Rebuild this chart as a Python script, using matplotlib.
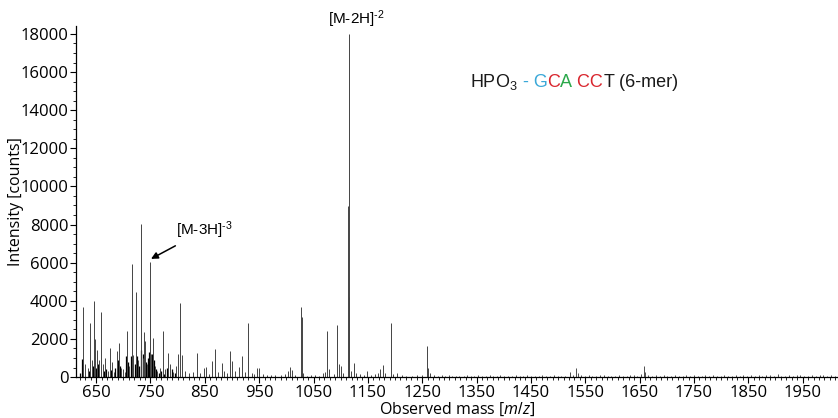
import matplotlib.pyplot as plt
from matplotlib.ticker import MultipleLocator
import numpy as np

plt.rcParams["font.family"] = ["Open Sans", "DejaVu Sans"]
plt.rcParams["mathtext.fontset"] = "custom"
plt.rcParams["mathtext.rm"] = "Liberation Sans"
plt.rcParams["mathtext.it"] = "Open Sans:italic"

# main peaks (m/z, counts)
peakMz = [626.6, 630, 634.7, 639.6, 642.6, 645.7, 648.7, 652.5, 656, 659, 662, 667,
          672, 675.7, 679.4, 683.6, 688, 691.6, 696, 699, 702.6, 707, 711, 716,
          718.7, 723.6, 727, 732, 735.7, 738.9, 739.4, 743, 748.7, 749.2, 751.7,
          755.4, 758, 762, 767.7, 772.5, 777, 782.4, 786, 792, 797, 800, 804.5,
          808, 813, 820, 828, 835, 841, 848, 852, 857, 862.7, 869, 875, 881, 885,
          890, 896, 900, 906, 912, 919, 924, 929.5, 930, 936, 941, 946, 950, 957,
          965, 972, 980, 990, 998, 1003, 1006.7, 1010, 1016, 1027.6, 1028, 1031,
          1038, 1045, 1052, 1060, 1068, 1071, 1075, 1078, 1088, 1094, 1096, 1100,
          1105, 1114.7, 1114.3, 1115.1, 1119, 1125, 1128, 1136, 1142, 1149, 1156,
          1163, 1169, 1173, 1177, 1181, 1192, 1196, 1204, 1212, 1221, 1232, 1241,
          1250, 1259, 1260, 1264, 1272]
peakInt = [3660, 700, 500, 2850, 900, 3990, 1990, 1420, 900, 3430, 700, 1000,
           300, 1540, 800, 250, 1360, 1760, 500, 400, 250, 2410, 600, 5950,
           1150, 4480, 900, 8050, 1000, 2380, 1900, 700, 6050, 3050, 1200,
           2040, 600, 300, 500, 2400, 400, 1280, 700, 250, 600, 1200, 3900,
           1150, 300, 200, 250, 1250, 200, 500, 550, 150, 850, 1450, 250, 750, 300,
           200, 1350, 850, 300, 550, 1100, 250, 2850, 1050, 200, 150, 450, 450, 150,
           100, 120, 100, 90, 150, 300, 550, 350, 100, 3700, 3150, 200,
           80, 100, 90, 70, 200, 250, 2400, 400, 150, 2750, 700, 600,
           200, 18000, 8950, 4200, 300, 750, 200, 150, 120, 300, 100,
           150, 200, 400, 650, 200, 2850, 150, 200, 100, 80, 70, 90,
           100, 1630, 470, 200, 100]

# dense low peaks in the trimer region
clusterMz = [621, 624, 636, 644, 650, 654, 664, 669, 677, 685, 690, 694, 705, 709,
             714, 721, 725, 729, 733, 737, 741, 745, 747, 753, 757, 760, 765, 770,
             775, 780, 789, 795]
clusterInt = [200, 950, 300, 600, 500, 700, 300, 400, 350, 500, 900, 600, 1100, 800,
              1100, 700, 1100, 600, 1400, 1200, 800, 1000, 1300, 1200, 900, 400, 200, 300,
              150, 500, 400, 200]

# baseline noise at high m/z
noiseMz = [1279, 1286, 1292, 1299, 1305, 1312, 1318, 1326, 1333, 1340, 1346, 1353,
           1360, 1367, 1374, 1381, 1388, 1394, 1401, 1408, 1415, 1422, 1429, 1436,
           1443, 1450, 1457, 1464, 1471, 1478, 1485, 1492, 1499, 1506, 1513, 1521,
           1528, 1533, 1536, 1542, 1549, 1556, 1563, 1570, 1577, 1584, 1591, 1598,
           1605, 1612, 1619, 1626, 1633, 1640, 1646, 1652, 1658, 1660, 1666, 1673,
           1680, 1687, 1694, 1701, 1708, 1715, 1722, 1729, 1736, 1743, 1750, 1757,
           1764, 1771, 1778, 1785, 1792, 1799, 1806, 1813, 1820, 1827, 1834, 1841,
           1848, 1855, 1862, 1869, 1876, 1883, 1890, 1897, 1904, 1911, 1918, 1925,
           1932, 1939, 1946, 1953, 1960, 1967, 1974, 1981, 1988, 1995, 2002, 2009]
noiseInt = [60, 90, 50, 110, 70, 40, 80, 60, 100, 50, 70, 120,
            60, 40, 90, 70, 50, 130, 60, 80, 45, 100, 60, 70,
            120, 50, 80, 60, 90, 40, 70, 110, 60, 80, 50, 250,
            90, 480, 200, 100, 60, 130, 70, 50, 90, 110, 60, 80,
            50, 100, 70, 60, 90, 120, 80, 150, 560, 250, 120, 70,
            90, 60, 100, 50, 80, 110, 60, 70, 90, 50, 100, 60,
            80, 130, 60, 90, 70, 50, 110, 60, 80, 120, 70, 90,
            60, 100, 80, 130, 60, 90, 110, 70, 140, 80, 60, 100,
            70, 90, 120, 60, 80, 100, 70, 90, 130, 60, 100, 80]

xTicks = list(range(650, 2000, 100))
yTicks = list(range(0, 18001, 2000))

fig = plt.figure(figsize=(8.38, 4.18), dpi=100)
axe = fig.add_axes([0.0907, 0.098, 0.9093, 0.839])

axe.vlines(clusterMz, 0, clusterInt, color="black", linewidth=0.9)
axe.vlines(noiseMz, 0, noiseInt, color="#333333", linewidth=0.6)
axe.vlines(peakMz, 0, peakInt, color="#444444", linewidth=0.7)

axe.set_xlim(613, 2015)
axe.set_ylim(0, 18400)
axe.set_xticks(xTicks)
axe.set_yticks(yTicks)
axe.xaxis.set_minor_locator(MultipleLocator(10))
axe.yaxis.set_minor_locator(MultipleLocator(500))
axe.tick_params(which="major", direction="out", length=4, width=0.8, labelsize=12, pad=1.5)
axe.tick_params(which="minor", direction="out", length=2, width=0.6)
for cote in ["top", "right"]:
    axe.spines[cote].set_visible(False)
for cote in ["left", "bottom"]:
    axe.spines[cote].set_linewidth(0.9)

axe.set_xlabel("Observed mass [$\\it{m/z}$]", fontsize=11.5)
axe.set_ylabel("Intensity [counts]", fontsize=11.5)
axe.xaxis.set_label_coords(0.5, -0.068)
axe.yaxis.set_label_coords(-0.068, 0.5)

arial = ["Liberation Sans", "DejaVu Sans"]
axe.text(1128, 18750, "[M-2H]$^{\\text{-2}}$", ha="center", va="center", fontsize=11,
         family=arial, clip_on=False)
axe.annotate("[M-3H]$^{\\text{-3}}$", xy=(751, 6200), xytext=(797, 7700), ha="left",
             va="center", fontsize=11, family=arial,
             arrowprops=dict(arrowstyle="-|>", color="black", lw=1.1, mutation_scale=10,
                             shrinkA=3, shrinkB=0))

# coloured title piece by piece
morceaux = [("HPO$_3$", "#1a1a1a"), (" - G", "#3aa8d8"), ("C", "#d9262e"),
            ("A", "#2aa84a"), (" CC", "#d9262e"), ("T", "#1a1a1a"), (" (6-mer)", "#1a1a1a")]
rendu = fig.canvas.get_renderer()
xPos = 470 / 838
for texte, couleur in morceaux:
    t = fig.text(xPos, 1 - 87 / 418, texte, color=couleur, fontsize=13, va="baseline",
                 family=arial)
    xPos += t.get_window_extent(rendu).width / fig.bbox.width

fig.savefig("out.png", dpi=100)
